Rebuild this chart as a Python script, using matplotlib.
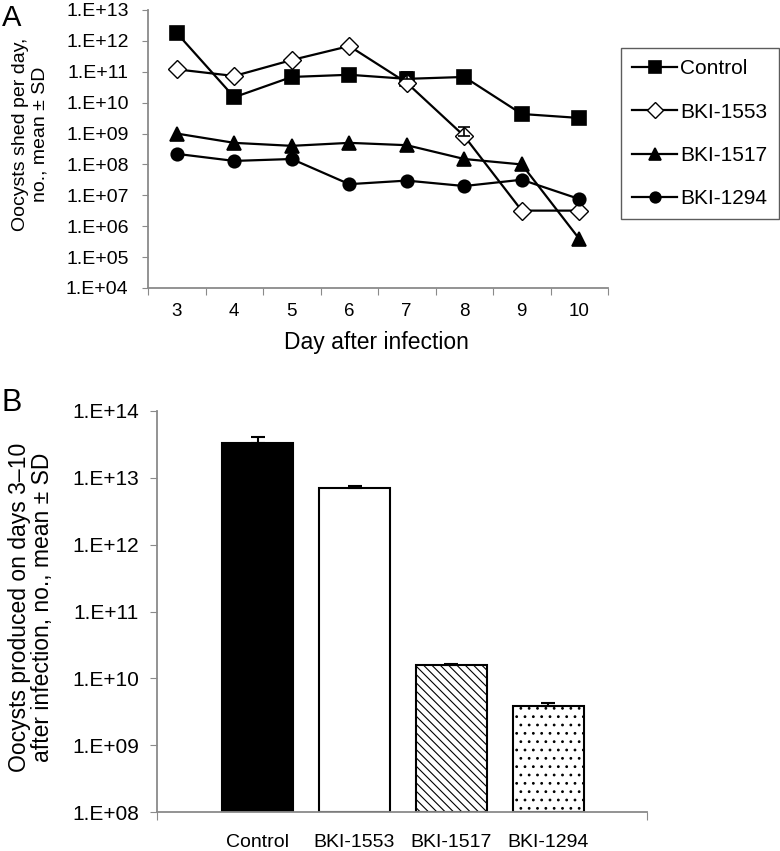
import matplotlib
matplotlib.use("Agg")
import matplotlib.pyplot as plt
import numpy as np

plt.rcParams['font.family'] = ['Liberation Sans', 'DejaVu Sans']
plt.rcParams['hatch.linewidth'] = 0.8

days = [3, 4, 5, 6, 7, 8, 9, 10]
control = [1.8e12, 1.5e10, 6.8e10, 8.0e10, 5.9e10, 6.8e10, 4.3e9, 3.2e9]
bki1553 = [1.2e11, 7.3e10, 2.4e11, 6.8e11, 4.4e10, 8.3e8, 3.2e6, 3.2e6]
bki1517 = [1.0e9, 5.0e8, 4.0e8, 5.0e8, 4.2e8, 1.5e8, 1.0e8, 3.9e5]
bki1294 = [2.2e8, 1.3e8, 1.5e8, 2.3e7, 3.0e7, 2.0e7, 3.2e7, 7.6e6]
control_sd = [0, 0, 0, 0, 4.0e10, 0, 0, 0]
bki1553_sd = [0, 0, 0, 0, 0, 7.5e8, 0, 0]

groups = ['Control', 'BKI-1553', 'BKI-1517', 'BKI-1294']
totals = [3.3e13, 7.0e12, 1.6e10, 3.8e9]
totals_sd = [8.0e12, 6.0e11, 2.0e8, 4.5e8]

W, H = 780, 851
fig = plt.figure(figsize=(W / 100, H / 100), dpi=100)
GRAY = '#8a8a8a'

# ---------- Panel A ----------
axA = fig.add_axes([148 / W, 1 - 288 / H, 460 / W, 278 / H])
x = np.arange(len(days))
series = [
    ('Control', control, dict(marker='s', mfc='black', ms=10)),
    ('BKI-1553', bki1553, dict(marker='D', mfc='white', ms=9.5, mew=1.0)),
    ('BKI-1517', bki1517, dict(marker='^', mfc='black', ms=9.5)),
    ('BKI-1294', bki1294, dict(marker='o', mfc='black', ms=9)),
]
handles = []
for name, vals, st in series:
    st = dict(st)
    mew = st.pop('mew', 1.2)
    h, = axA.plot(x, vals, color='black', lw=1.6, mec='black', mew=mew,
                  label=name, **st)
    handles.append(h)
for vals, sd in [(control, control_sd), (bki1553, bki1553_sd)]:
    sd = np.array(sd)
    m = sd > 0
    axA.errorbar(x[m], np.array(vals)[m], yerr=[np.zeros(m.sum()), sd[m]],
                 fmt='none', ecolor='black', elinewidth=1.2, capsize=4, capthick=1.2)

axA.set_yscale('log')
axA.set_ylim(1e4, 1e13)
axA.set_xlim(-0.5, len(days) - 0.5)
yt = [10.0 ** k for k in range(4, 14)]
axA.set_yticks(yt)
axA.set_yticklabels(['1.E+%02d' % k for k in range(4, 14)], fontsize=14)
axA.yaxis.set_minor_locator(matplotlib.ticker.NullLocator())
axA.set_xticks(np.arange(-0.5, len(days), 1.0))
axA.set_xticklabels([])
axA.tick_params(axis='x', which='major', length=5, color=GRAY, direction='out')
axA.tick_params(axis='y', length=4, color=GRAY, direction='out', pad=10)
for i, d in enumerate(days):
    axA.text(i, -0.083, str(d), transform=axA.get_xaxis_transform(),
             ha='center', va='center', fontsize=13.5)
for s in ['top', 'right']:
    axA.spines[s].set_visible(False)
for s in ['left', 'bottom']:
    axA.spines[s].set_color(GRAY)
    axA.spines[s].set_linewidth(1.3)
fig.text(376 / W, 1 - 343 / H, 'Day after infection', ha='center', va='center',
         fontsize=16.5)
fig.text(30 / W, 1 - 134 / H, 'Oocysts shed per day,\nno., mean ± SD', rotation=90,
         ha='center', va='center', fontsize=14, multialignment='center',
         linespacing=1.2)
fig.text(2 / W, 1 - 18 / H, 'A', fontsize=21, ha='left', va='center')

leg = fig.legend(handles=handles, loc='upper left',
                 bbox_to_anchor=(621 / W, 1 - 48 / H), frameon=True,
                 fancybox=False, edgecolor='#333333', fontsize=15,
                 handlelength=2.15, handletextpad=0.15, labelspacing=1.16,
                 borderpad=0.55, borderaxespad=0.0, markerscale=0.85)
leg.get_frame().set_linewidth(1.0)

# ---------- Panel B ----------
axB = fig.add_axes([157 / W, 1 - 812 / H, 490 / W, 401 / H])
xb = np.arange(len(groups))
fills = ['black', 'white', 'white', 'white']
hatches = [None, None, '\\\\\\\\', '..']
for i in range(len(groups)):
    axB.bar(xb[i], totals[i], width=0.73, bottom=1e8, color=fills[i],
            edgecolor='black', linewidth=1.5, hatch=hatches[i], zorder=2)
axB.errorbar(xb, totals, yerr=[np.zeros(len(totals)), totals_sd], fmt='none',
             ecolor='black', elinewidth=1.5, capsize=5, capthick=1.5, zorder=3)
axB.set_yscale('log')
axB.set_ylim(1e8, 1e14)
axB.set_xlim(-1.04, 4.02)
yb = [10.0 ** k for k in range(8, 15)]
axB.set_yticks(yb)
axB.set_yticklabels(['1.E+%02d' % k for k in range(8, 15)], fontsize=15)
axB.yaxis.set_minor_locator(matplotlib.ticker.NullLocator())
axB.set_xticks([-1.04, 4.02])
axB.set_xticklabels([])
axB.tick_params(axis='x', length=6, color=GRAY, direction='out')
axB.tick_params(axis='y', length=5, color=GRAY, direction='out', pad=8)
for i, g in enumerate(groups):
    axB.text(xb[i], -0.075, g, transform=axB.get_xaxis_transform(),
             ha='center', va='center', fontsize=14)
for s in ['top', 'right']:
    axB.spines[s].set_visible(False)
for s in ['left', 'bottom']:
    axB.spines[s].set_color(GRAY)
    axB.spines[s].set_linewidth(1.3)
fig.text(31 / W, 1 - 607 / H,
         'Oocysts produced on days 3–10\nafter infection, no., mean ± SD',
         rotation=90, ha='center', va='center', fontsize=16.5,
         multialignment='center', linespacing=1.0)
fig.text(2 / W, 1 - 403 / H, 'B', fontsize=22, ha='left', va='center')

fig.savefig('out.png', dpi=100)
